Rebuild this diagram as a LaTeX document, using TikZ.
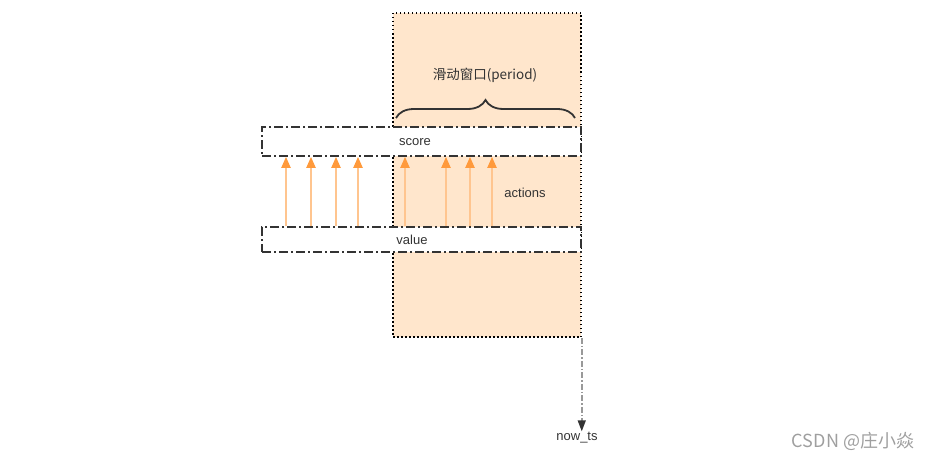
\documentclass[tikz,border=0pt]{standalone}
\usepackage{fontspec}
\setmainfont{Liberation Sans}
\newfontfamily\cjk{Noto Sans CJK SC}
\usepackage{xcolor}
\usetikzlibrary{arrows.meta,decorations.pathreplacing}

\definecolor{winfill}{HTML}{FFE6CC}
\definecolor{actline}{HTML}{FFC58F}
\definecolor{acthead}{HTML}{FF9A3C}
\definecolor{darkline}{HTML}{333333}

\begin{document}
\begin{tikzpicture}[
  x=1pt, y=-1pt,
  window/.style={draw, fill=winfill, line width=1.5pt,
                 dash pattern=on 1.5pt off 2.5pt, minimum width=188pt,
                 minimum height=324pt, inner sep=0pt},
  rowbox/.style={draw=darkline, fill=white, line width=1.6pt,
                 dash pattern=on 9pt off 3pt on 2pt off 3pt,
                 minimum width=319pt, inner sep=0pt},
  txt/.style={font=\fontsize{13}{15}\selectfont, text=darkline, inner sep=1pt},
  act/.style={actline, line width=2pt,
              -{Triangle[length=11pt,width=9pt,fill=acthead,color=acthead]}},
  brace/.style={decorate, darkline, line width=1.8pt,
                decoration={brace, amplitude=18pt}},
  tsarrow/.style={gray!80, line width=1.5pt,
                  dash pattern=on 6pt off 2pt on 1.5pt off 2pt,
                  -{Triangle[length=11pt,width=8pt,fill=darkline,color=darkline]}}
]
  \useasboundingbox (0,0) rectangle (933,460);

  \node[window] (window) at (487,175) {};

  \node[rowbox, minimum height=29pt] (score) at (421.5,141.5) {};
  \node[rowbox, minimum height=25pt] (value) at (421.5,239.5) {};
  \node[txt] (scoretxt) at (415,142) {score};
  \node[txt] (valuetxt) at (412,240) {value};

  % sliding window label and brace
  \draw[brace] (396,118) -- (575,118);
  \node[txt, font=\cjk\fontsize{13.5}{15}\selectfont] (period) at (485,75) {滑动窗口(period)};

  % actions between value and score
  \foreach \x in {286,311,336,358,405,446,470,492}
    \draw[act] (\x,0 |- value.north) -- (\x,0 |- score.south);
  \node[txt] (actions) at (525,193) {actions};

  % current time
  \node[txt] (nowts) at (577,438) {now\_ts};
  \draw[tsarrow] (window.south east) -- (window.south east |- nowts.north);

  \node[font=\cjk\fontsize{18}{20}\selectfont, text=gray!75] (mark) at (853,441) {CSDN @庄小焱};
\end{tikzpicture}
\end{document}
